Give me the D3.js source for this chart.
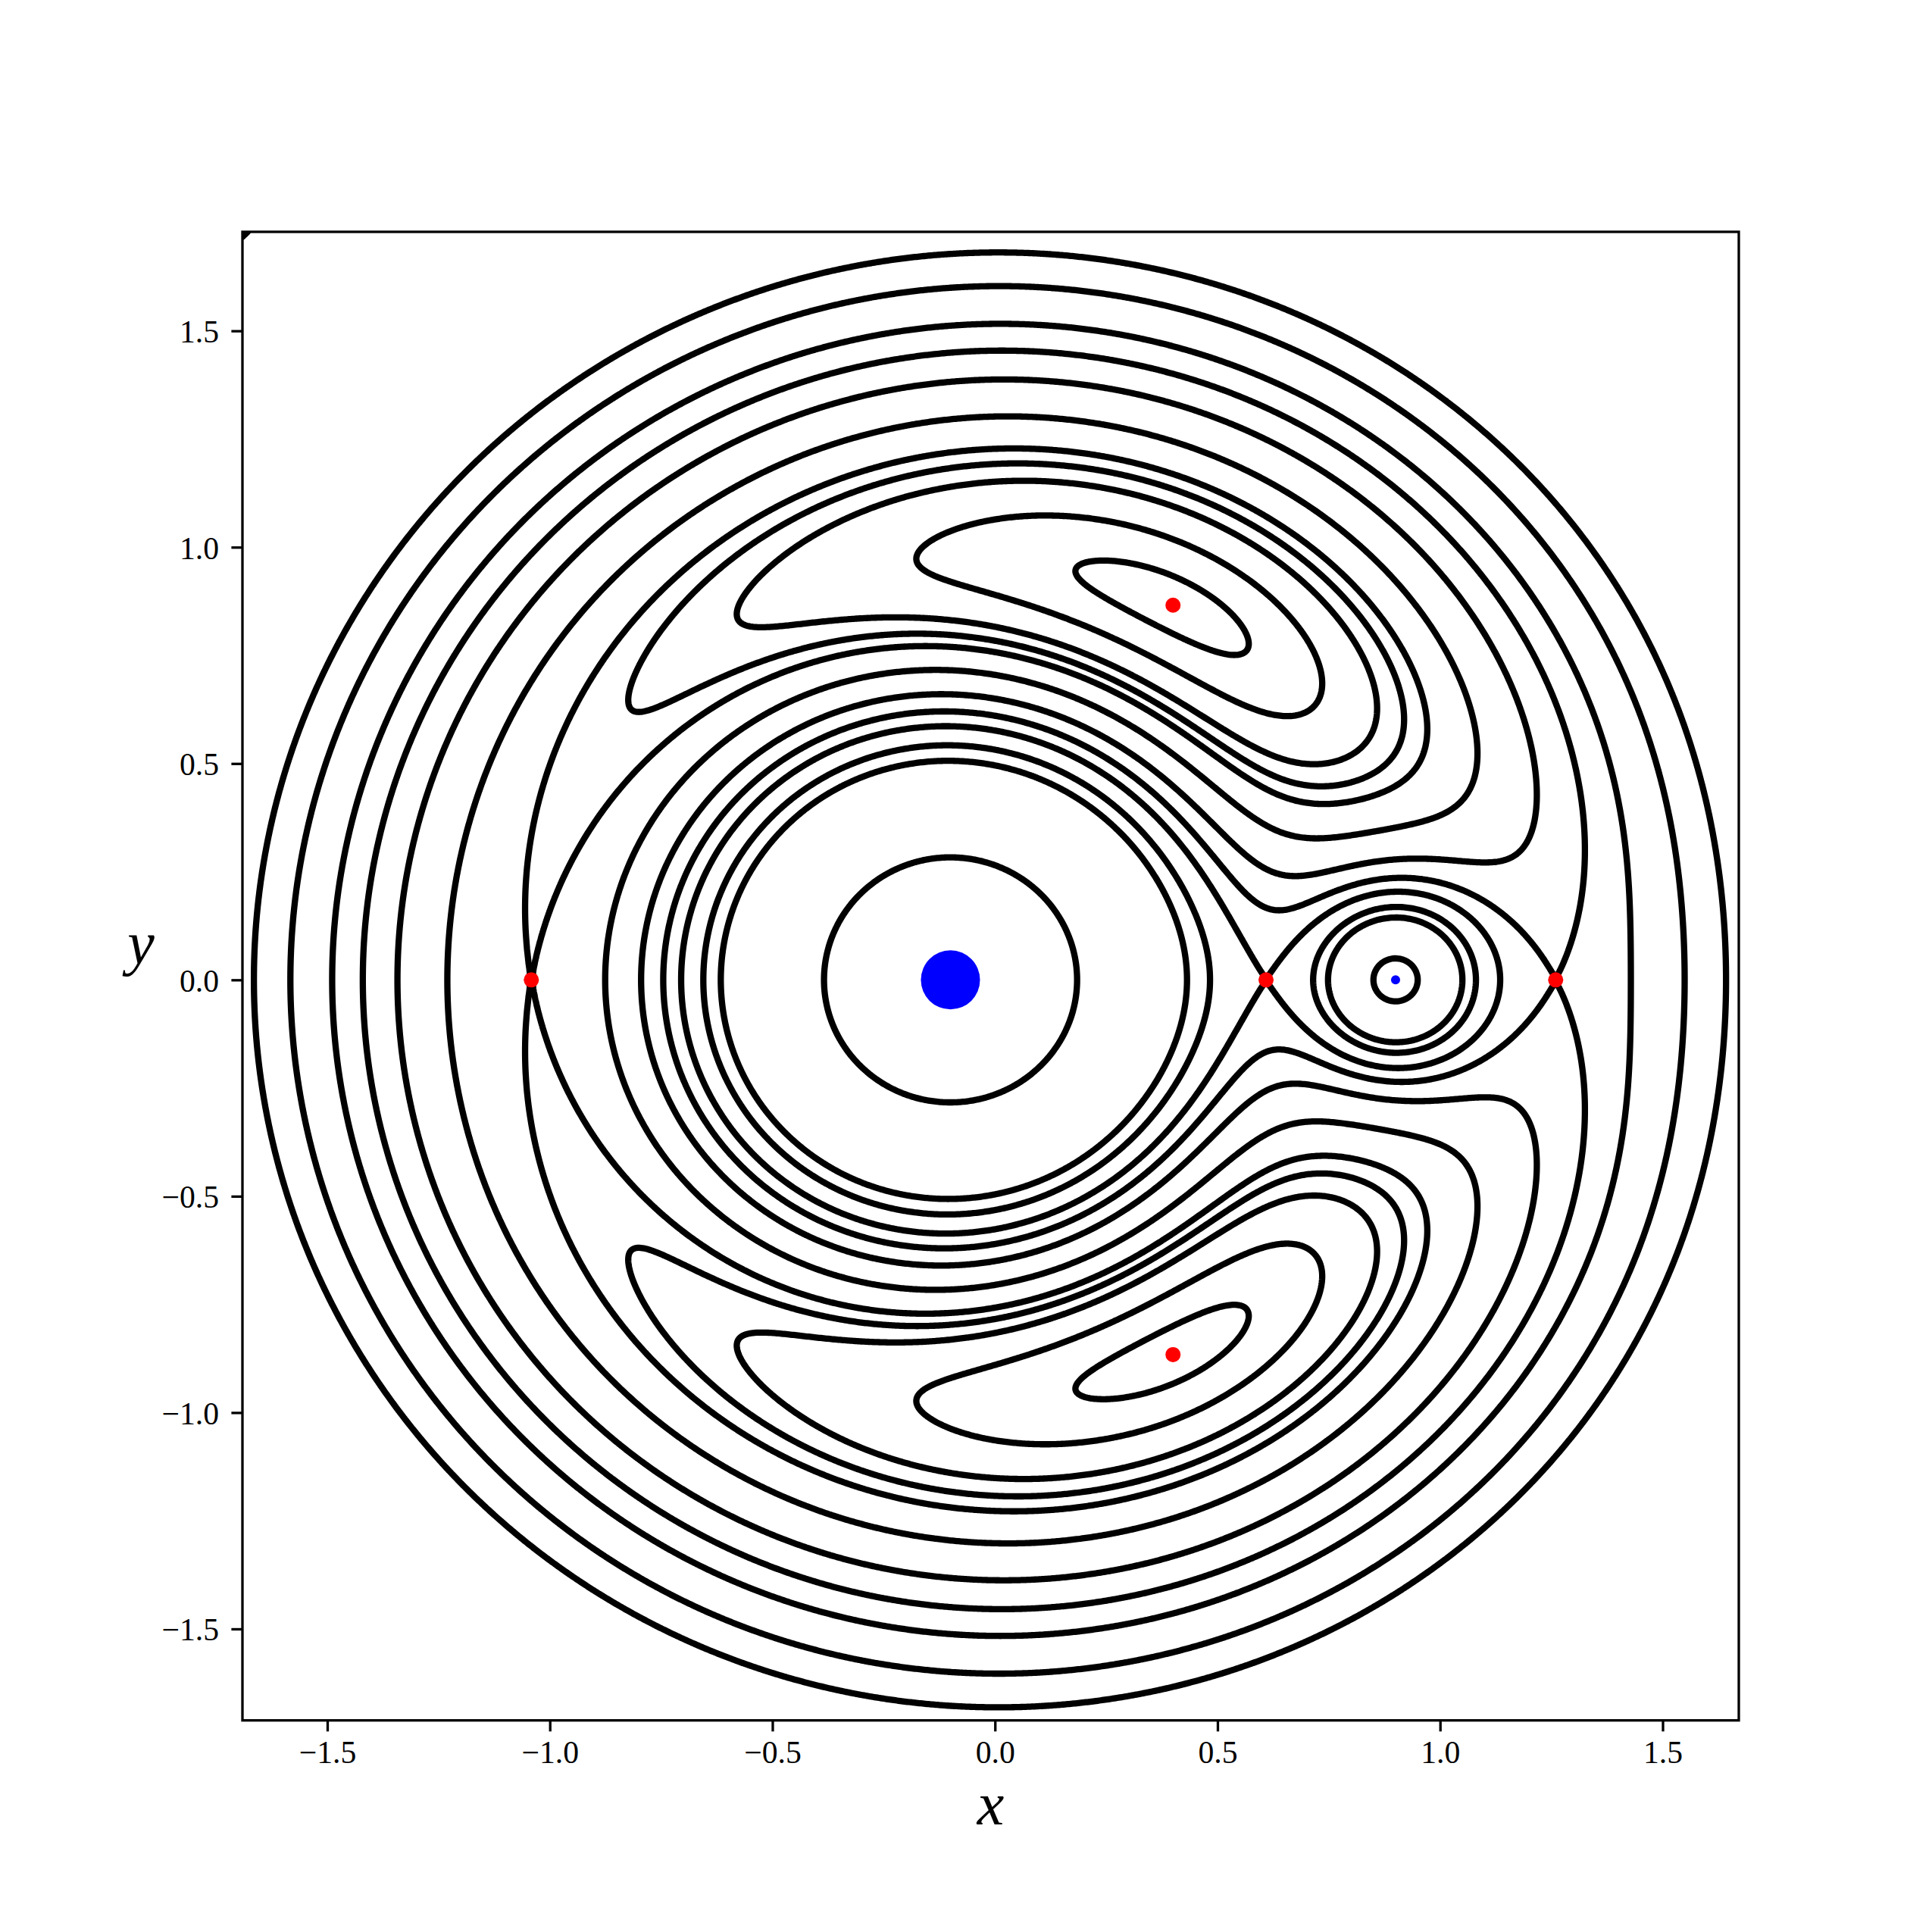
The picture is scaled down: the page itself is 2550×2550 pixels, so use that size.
<!DOCTYPE html>
<html>
<head>
<meta charset="utf-8">
<script src="https://cdn.jsdelivr.net/npm/d3@7"></script>
<style>
  body { margin: 0; background: #fff; }
  text { font-family: "Liberation Serif", "DejaVu Serif", serif; fill: #000; }
</style>
</head>
<body>
<div class="svg-container"></div>
<script>
// mass ratio of the two bodies
var mu = 0.1;

// plot window (data units)
var xDomain = [-1.6906, 1.6711];
var yDomain = [-1.7114, 1.7288];

// contour levels of the effective potential
var levels = [1.46, 1.48, 1.51, 1.53, 1.5498, 1.60, 1.67, 1.7333, 1.7984, 1.90, 2.00, 3.32];

var xTicks = [-1.5, -1.0, -0.5, 0.0, 0.5, 1.0, 1.5];
var yTicks = [-1.5, -1.0, -0.5, 0.0, 0.5, 1.0, 1.5];

// Lagrange points L1..L5
var lagrangeX = [0.609, 1.2597, -1.0416, 0.4, 0.4];
var lagrangeY = [0, 0, 0, 0.866, -0.866];

// primary and secondary
var bodyX = [-0.1, 0.9];
var bodyY = [0, 0];

var W = 2550, H = 2550;
// note: "top" is taken by window.top, so keep the box in one object
var box = {left: 320, right: 2295, top: 306, bottom: 2270.7};
var lw = 8.3;

var svg = d3.select(".svg-container").append("svg")
  .attr("width", W).attr("height", H)
  .style("display", "block");

svg.append("rect").attr("width", W).attr("height", H).attr("fill", "#fff");

var x = d3.scaleLinear().domain(xDomain).range([box.left, box.right]);
var y = d3.scaleLinear().domain(yDomain).range([box.bottom, box.top]);

var omega = (px, py) => {
  var r1 = Math.hypot(px + mu, py);
  var r2 = Math.hypot(px - 1 + mu, py);
  return Math.min(100, 0.5 * (px * px + py * py) + (1 - mu) / r1 + mu / r2);
};

// sample the field
var nx = 1000, ny = 1000;
var gdx = (xDomain[1] - xDomain[0]) / (nx - 1);
var gdy = (yDomain[1] - yDomain[0]) / (ny - 1);
var values = new Float64Array(nx * ny);
for (var j = 0; j < ny; j++) {
  for (var i = 0; i < nx; i++) {
    values[j * nx + i] = omega(xDomain[0] + i * gdx, yDomain[0] + j * gdy);
  }
}

var contours = d3.contours().size([nx, ny]).thresholds(levels)(values);

// rings from d3 run along the grid border; cut those parts off
var onEdge = p => p[0] <= 0 || p[0] >= nx || p[1] <= 0 || p[1] >= ny;
var ringToLines = (ring) => {
  if (!ring.some(onEdge)) { return [ring]; }
  var k = ring.findIndex(onEdge);
  var pts = ring.slice(k, ring.length - 1).concat(ring.slice(0, k + 1));
  var out = [], cur = [];
  pts.forEach(p => {
    if (onEdge(p)) {
      if (cur.length > 1) { out.push(cur); }
      cur = [];
    } else {
      cur.push(p);
    }
  });
  if (cur.length > 1) { out.push(cur); }
  return out;
};

var segs = [];
contours.forEach(c => {
  c.coordinates.forEach(poly => {
    poly.forEach(ring => {
      ringToLines(ring).forEach(l => segs.push(l));
    });
  });
});

var lineGen = d3.line()
  .x(p => x(xDomain[0] + (p[0] - 0.5) * gdx))
  .y(p => y(yDomain[0] + (p[1] - 0.5) * gdy));

svg.append("clipPath").attr("id", "plotclip")
  .append("rect")
  .attr("x", box.left).attr("y", box.top)
  .attr("width", box.right - box.left).attr("height", box.bottom - box.top);

var plot = svg.append("g").attr("clip-path", "url(#plotclip)");

plot.selectAll("path.level").data(segs).enter().append("path")
  .attr("class", "level")
  .attr("d", lineGen)
  .attr("fill", "none")
  .attr("stroke", "#000")
  .attr("stroke-width", lw)
  .attr("stroke-linejoin", "round")
  .attr("stroke-linecap", "round");

// bodies
plot.selectAll("circle.body").data(bodyX).enter().append("circle")
  .attr("class", "body")
  .attr("cx", d => x(d))
  .attr("cy", (d, i) => y(bodyY[i]))
  .attr("r", (d, i) => i === 0 ? 39 : 6)
  .attr("fill", "#0000ff");

// Lagrange points
plot.selectAll("circle.lp").data(lagrangeX).enter().append("circle")
  .attr("class", "lp")
  .attr("cx", d => x(d))
  .attr("cy", (d, i) => y(lagrangeY[i]))
  .attr("r", 10)
  .attr("fill", "#ff0000");

// axes
var fmt = d3.format(".1f");
var fs = 41.7, tickLen = 14.6, tickW = 3.3;

var xAxis = svg.append("g").attr("transform", "translate(0," + box.bottom + ")")
  .call(d3.axisBottom(x).tickValues(xTicks).tickSize(tickLen).tickFormat(fmt));
var yAxis = svg.append("g").attr("transform", "translate(" + box.left + ",0)")
  .call(d3.axisLeft(y).tickValues(yTicks).tickSize(tickLen).tickFormat(fmt));

[xAxis, yAxis].forEach(a => {
  a.select(".domain").remove();
  a.selectAll(".tick line").attr("stroke", "#000").attr("stroke-width", tickW);
  a.selectAll(".tick text").attr("font-size", fs).attr("font-family", null).attr("fill", "#000");
});
xAxis.selectAll(".tick text").attr("y", 56.3).attr("dy", 0);
yAxis.selectAll(".tick text").attr("x", -31).attr("y", 0).attr("dy", 15);

// spines
svg.append("rect")
  .attr("x", box.left).attr("y", box.top)
  .attr("width", box.right - box.left).attr("height", box.bottom - box.top)
  .attr("fill", "none").attr("stroke", "#000").attr("stroke-width", tickW);

// axis labels
svg.append("text")
  .attr("x", (box.left + box.right) / 2).attr("y", 2408)
  .attr("text-anchor", "middle")
  .attr("font-size", 80).attr("font-style", "italic")
  .text("x");
svg.append("text")
  .attr("x", 186).attr("y", 1272)
  .attr("text-anchor", "middle")
  .attr("font-size", 80).attr("font-style", "italic")
  .text("y");
</script>
</body>
</html>
